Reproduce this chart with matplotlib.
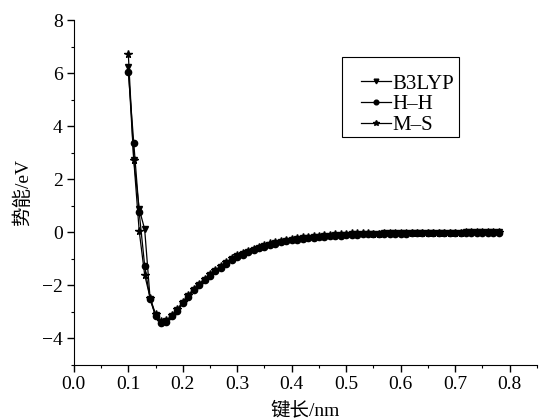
import numpy as np
import matplotlib
matplotlib.use("Agg")
import matplotlib.pyplot as plt
from matplotlib.ticker import MultipleLocator, FormatStrFormatter, FuncFormatter
from matplotlib.patches import Rectangle

# bond length (nm)
r = [0.10, 0.11, 0.12, 0.13, 0.14, 0.15, 0.16, 0.17, 0.18, 0.19,
     0.20, 0.21, 0.22, 0.23, 0.24, 0.25, 0.26, 0.27, 0.28, 0.29,
     0.30, 0.31, 0.32, 0.33, 0.34, 0.35, 0.36, 0.37, 0.38, 0.39,
     0.40, 0.41, 0.42, 0.43, 0.44, 0.45, 0.46, 0.47, 0.48, 0.49,
     0.50, 0.51, 0.52, 0.53, 0.54, 0.55, 0.56, 0.57, 0.58, 0.59,
     0.60, 0.61, 0.62, 0.63, 0.64, 0.65, 0.66, 0.67, 0.68, 0.69,
     0.70, 0.71, 0.72, 0.73, 0.74, 0.75, 0.76, 0.77, 0.78]

# common part of the well (0.14 nm onward)
tail = [-2.50, -3.13, -3.38, -3.36, -3.15, -2.94,
        -2.65, -2.40, -2.17, -1.97, -1.79, -1.61, -1.45, -1.31, -1.16, -1.02,
        -0.91, -0.82, -0.73, -0.65, -0.58, -0.52, -0.46, -0.41, -0.36, -0.32,
        -0.28, -0.25, -0.22, -0.20, -0.18, -0.16, -0.14, -0.13, -0.11, -0.10,
        -0.09, -0.08, -0.07, -0.06, -0.06, -0.05, -0.05, -0.04, -0.04, -0.03,
        -0.03, -0.03, -0.02, -0.02, -0.02, -0.02, -0.01, -0.01, -0.01, -0.01,
        -0.01, -0.01, 0.00, 0.00, 0.00, 0.00, 0.00, 0.00, 0.00]

b3lyp = [6.24, 2.74, 0.88, 0.12] + tail
hh = [6.05, 3.37, 0.75, -1.25] + [v - 0.02 for v in tail]
ms = [6.72, 2.74, 0.05, -1.60] + [v + 0.04 if v < -0.05 else v for v in tail]

plt.rcParams['font.family'] = ['Liberation Serif', 'Noto Sans CJK SC']

fig = plt.figure(figsize=(5.39, 4.2), dpi=100)
ax = fig.add_axes([0.137, 0.131, 0.859, 0.821])

ax.plot(r, b3lyp, color='black', lw=0.9, marker='v', ms=4.5, label='B3LYP')
ax.plot(r, hh, color='black', lw=0.9, marker='o', ms=4.5, label='H\u2013H')
ax.plot(r, ms, color='black', lw=0.9, marker='*', ms=5.5, label='M\u2013S')

ax.set_xlim(0, 0.85)
ax.set_ylim(-5, 8)
ax.xaxis.set_major_locator(MultipleLocator(0.1))
ax.xaxis.set_minor_locator(MultipleLocator(0.05))
ax.yaxis.set_major_locator(MultipleLocator(2))
ax.yaxis.set_minor_locator(MultipleLocator(1))
ax.xaxis.set_major_formatter(FormatStrFormatter('%.1f'))
ax.yaxis.set_major_formatter(FuncFormatter(
    lambda v, p: ('\u2212%d' % -v) if v < 0 else '%d' % v))

ax.spines['top'].set_visible(False)
ax.spines['right'].set_visible(False)
ax.tick_params(which='major', direction='out', length=5, width=1, labelsize=14, pad=3)
ax.tick_params(which='minor', direction='out', length=2.5, width=0.8)

ax.set_xlabel('键长/nm', fontsize=14, labelpad=6)
ax.set_ylabel('势能/eV', fontsize=14, labelpad=7)

# legend without frame, box drawn separately
leg = fig.legend(*ax.get_legend_handles_labels(), loc='upper left',
                 bbox_to_anchor=(361 / 539, 1 - 74 / 420), fontsize=15,
                 frameon=False, handlelength=1.45, handletextpad=0.05,
                 labelspacing=0.05, borderpad=0, borderaxespad=0,
                 markerscale=0.75)
fig.patches.append(Rectangle((342 / 539, 1 - 137 / 420), 117 / 539, 80 / 420,
                             transform=fig.transFigure, fill=False,
                             edgecolor='black', linewidth=0.8))

fig.savefig('out.png', dpi=100, facecolor='white')
